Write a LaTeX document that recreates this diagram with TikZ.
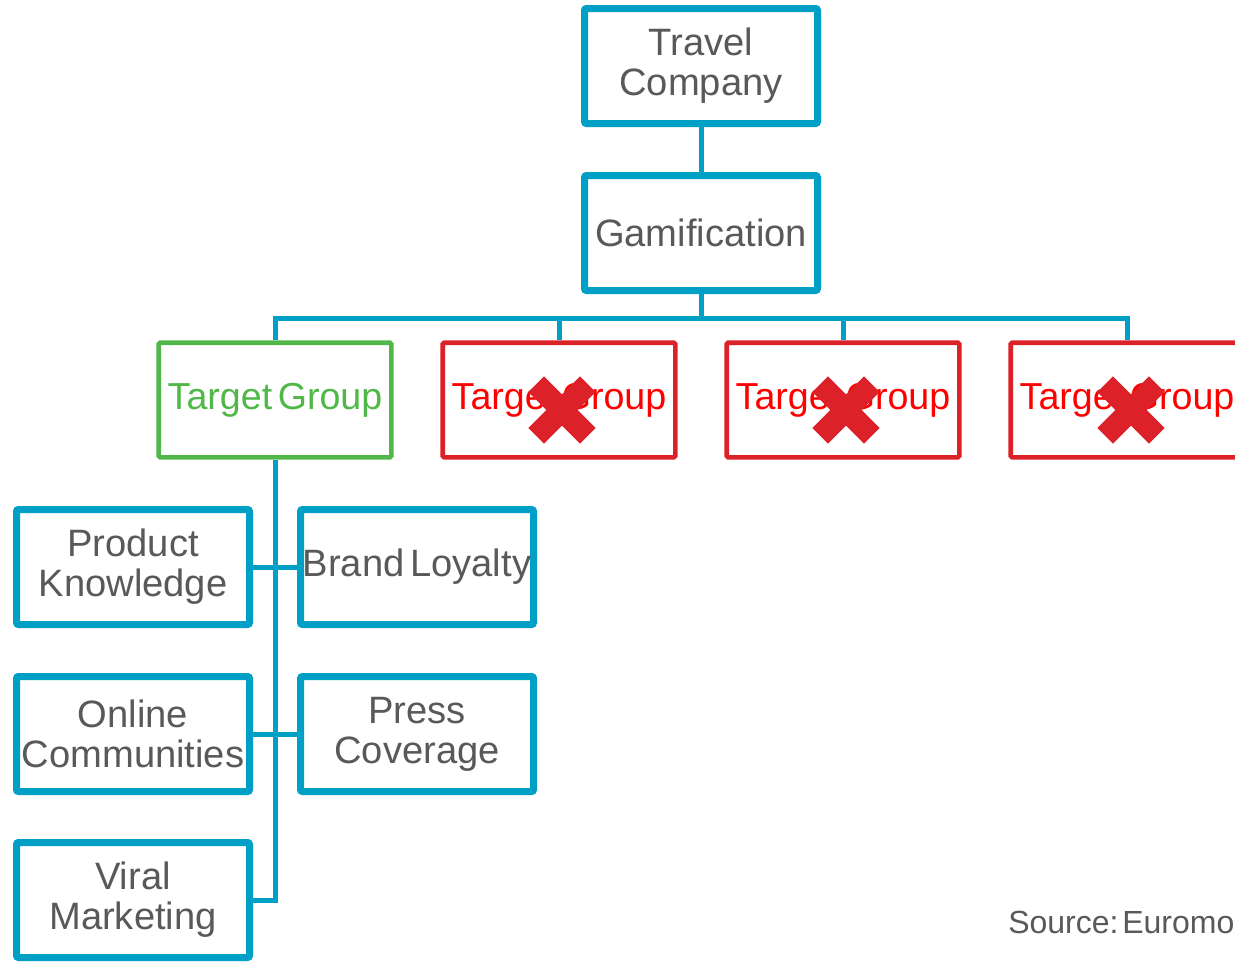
\documentclass[tikz,border=0pt]{standalone}
\usepackage{fontspec}
\setmainfont{Liberation Sans}
\usetikzlibrary{shadows}
\definecolor{cblue}{RGB}{0,160,198}
\definecolor{cgreen}{RGB}{80,184,72}
\definecolor{cred}{RGB}{220,33,40}
\definecolor{ctext}{RGB}{89,89,89}
\definecolor{ctred}{RGB}{255,0,0}
\tikzset{
  bluebox/.style={draw=cblue, line width=5.25pt, fill=white, rounded corners=1.5pt,
    minimum width=174.75pt, minimum height=86.25pt, inner sep=0pt, align=center,
    text=ctext, font=\fontsize{28.6}{30}\selectfont,
    drop shadow={opacity=0.22, shadow xshift=1.5pt, shadow yshift=-2pt}},
  okbox/.style={draw=cgreen, line width=3.4pt, fill=white, rounded corners=1pt,
    minimum width=174.4pt, minimum height=85.9pt, inner sep=0pt, align=center,
    text=cgreen, font=\fontsize{28.2}{30}\selectfont},
  nobox/.style={okbox, draw=cred, text=ctred},
  link/.style={draw=cblue, line width=3.75pt},
  cross/.style={draw=cred, line width=16.5pt, line cap=butt}
}
\begin{document}
\begin{tikzpicture}[x=0.75pt,y=-0.75pt]
\useasboundingbox (0,0) rectangle (1235,961);
\clip (0,0) rectangle (1235,961);
\fill[white] (0,0) rectangle (1235,961);
% nodes
\node[bluebox] (tc) at (701,66) {Travel\\Company};
\node[bluebox] (gam) at (701,233) {Gamification};
\node[okbox] (tg1) at (275,400) {Target\hspace{0.15em}Group};
\node[nobox] (tg2) at (559,400) {Target\hspace{0.15em}Group};
\node[nobox] (tg3) at (843,400) {Target\hspace{0.15em}Group};
\node[nobox] (tg4) at (1127,400) {Target\hspace{0.15em}Group};
\node[bluebox] (pk) at (133,567) {Product\\Knowledge};
\node[bluebox] (bl) at (417,567) {Brand\hspace{0.15em}Loyalty};
\node[bluebox] (oc) at (133,734) {Online\\Communities};
\node[bluebox] (pc) at (417,734) {Press\\Coverage};
\node[bluebox] (vm) at (133,900) {Viral\\Marketing};
\coordinate (bar) at (701,318);
% connectors
\draw[link] (tc.south) -- (gam.north);
\draw[link] (gam.south) -- (bar);
\draw[link] (tg1.north) |- (bar) -| (tg4.north);
\draw[link] (tg2.north) -- (tg2.north |- bar);
\draw[link] (tg3.north) -- (tg3.north |- bar);
\draw[link] (tg1.south) -- (tg1.south |- vm.east) -- (vm.east);
\draw[link] (pk.east) -- (bl.west);
\draw[link] (oc.east) -- (pc.west);
% crosses
\foreach \cx in {562,846,1131}{
  \draw[cross] (\cx-25.8,410-25.8) -- (\cx+25.8,410+25.8);
  \draw[cross] (\cx-25.8,410+25.8) -- (\cx+25.8,410-25.8);
}
\node[anchor=base west, inner sep=0pt, text=ctext, font=\fontsize{24}{26}\selectfont] (src) at (1008,933) {Source:\hspace{0.12em}Euromonitor};
\end{tikzpicture}
\end{document}
